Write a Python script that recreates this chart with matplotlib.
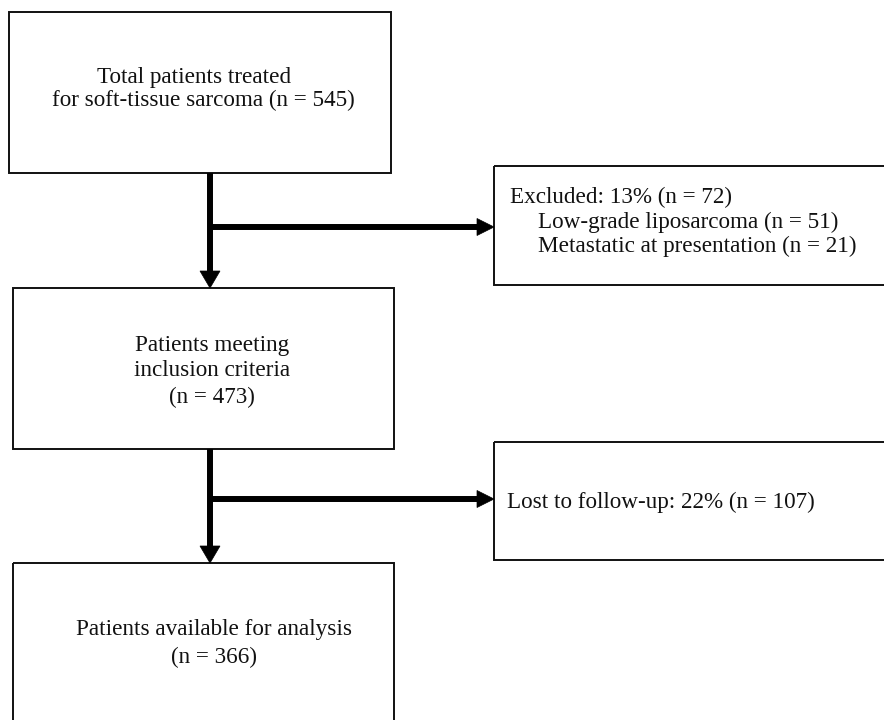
import matplotlib.pyplot as plt
from matplotlib.patches import Rectangle, Polygon

plt.rcParams['font.family'] = ['Liberation Serif', 'DejaVu Serif']

# box geometry in pixels: left, top, right, bottom (image coords, y down)
main_boxes = [(9, 12, 391, 173), (13, 288, 394, 449), (13, 563, 394, 722)]
side_boxes = [(494, 166, 890, 285), (494, 442, 890, 560)]

main_texts = [
    ["Total patients treated", "for soft-tissue sarcoma (n = 545)"],
    ["Patients meeting", "inclusion criteria", "(n = 473)"],
    ["Patients available for analysis", "(n = 366)"],
]
main_text_y = [[77, 100], [345, 371, 397], [630, 657]]
main_text_x = [[194, 203], [212, 212, 212], [214, 214]]

side_texts = [
    ["Excluded: 13% (n = 72)", "Low-grade liposarcoma (n = 51)",
     "Metastatic at presentation (n = 21)"],
    ["Lost to follow-up: 22% (n = 107)"],
]
side_text_y = [[197, 222, 246], [502]]
side_indent = [[16, 44, 44], [13]]

# arrows: x of trunk, y where branch leaves
trunk_x = 210
branch_y = [227, 499]

fig = plt.figure(figsize=(8.84, 7.2), dpi=100)
ax = fig.add_axes([0, 0, 1, 1])
ax.set_xlim(0, 884)
ax.set_ylim(720, 0)
ax.axis('off')

for (l, t, r, b) in main_boxes + side_boxes:
    ax.add_patch(Rectangle((l, t), r - l, b - t, fill=False,
                           edgecolor='#111111', lw=1.4))

fs = 16.7
for lines, ys, xs in zip(main_texts, main_text_y, main_text_x):
    for s, y, x in zip(lines, ys, xs):
        ax.text(x, y, s, ha='center', va='center', fontsize=fs, color='#111111')

for lines, ys, ind, (l, t, r, b) in zip(side_texts, side_text_y, side_indent, side_boxes):
    for s, y, dx in zip(lines, ys, ind):
        ax.text(l + dx, y, s, ha='left', va='center', fontsize=fs, color='#111111')

shaft = 4.3
hl, hw = 17, 10


def head(x, y, direction):
    if direction == 'down':
        pts = [(x - hw, y - hl), (x + hw, y - hl), (x, y)]
    else:
        pts = [(x - hl, y - hw * 0.85), (x - hl, y + hw * 0.85), (x, y)]
    ax.add_patch(Polygon(pts, closed=True, facecolor='black', edgecolor='black', lw=0.5))


for i in range(2):
    top = main_boxes[i][3]
    bottom = main_boxes[i + 1][1]
    ax.plot([trunk_x, trunk_x], [top, bottom - hl + 1], color='black',
            lw=shaft, solid_capstyle='butt')
    head(trunk_x, bottom, 'down')
    target = side_boxes[i][0]
    ax.plot([trunk_x, target - hl + 1], [branch_y[i], branch_y[i]], color='black',
            lw=shaft, solid_capstyle='butt')
    head(target, branch_y[i], 'right')

fig.savefig('out.png', dpi=100)
